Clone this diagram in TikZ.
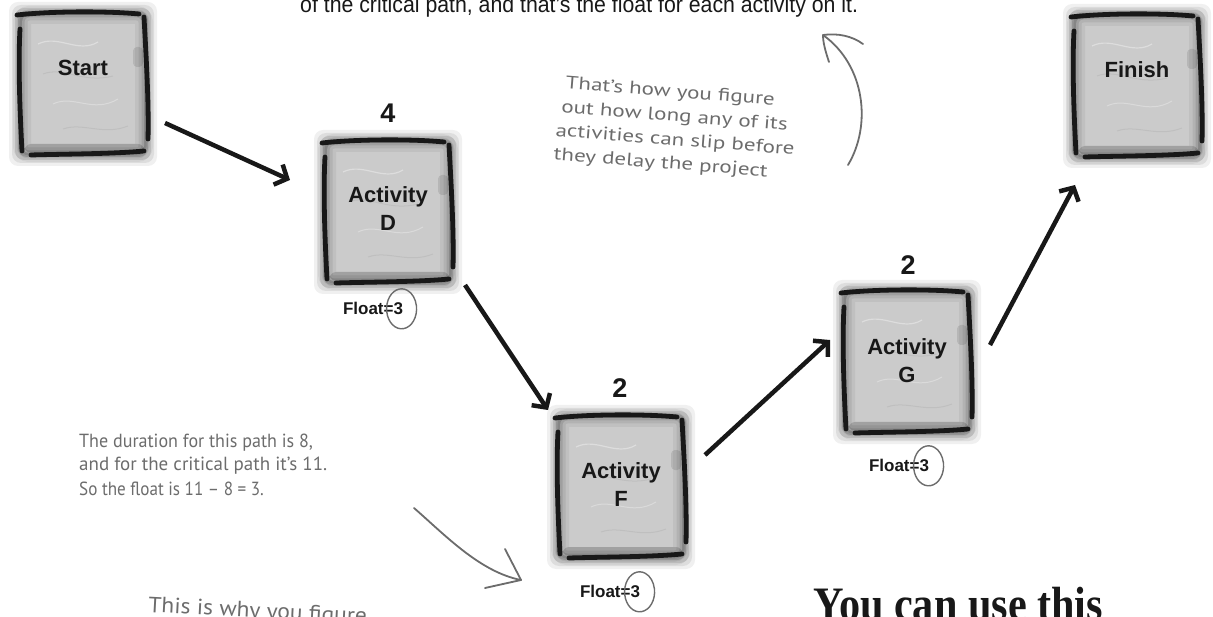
\documentclass[tikz,border=0pt]{standalone}
\usepackage{fontspec}
\setmainfont{Liberation Sans}
\newfontfamily\notefont{PT Sans}
\newfontfamily\headfont{Liberation Serif}
\usetikzlibrary{arrows.meta}

\definecolor{stonefill}{RGB}{203,203,203}
\definecolor{notegray}{RGB}{108,108,108}
\definecolor{ink}{RGB}{24,24,24}

\tikzset{
  box/.style={minimum width=126pt,minimum height=140pt,inner sep=0pt},
  boxlabel/.style={font=\fontsize{22}{28}\selectfont\bfseries,text=ink,align=center,inner sep=0pt},
  dur/.style={font=\fontsize{27}{27}\selectfont\bfseries,text=ink,inner sep=0pt},
  floatlabel/.style={font=\fontsize{17}{17}\selectfont\bfseries,text=ink,inner sep=0pt},
  flow/.style={ink,line width=4.5pt,-{Straight Barb[length=10pt,width=22pt]}},
  note/.style={notegray,line width=1.8pt,line cap=round,line join=round},
  notetext/.style={font=\notefont\fontsize{18}{24}\selectfont,text=notegray,inner sep=0pt,anchor=base west},
  smallnote/.style={notetext,font=\notefont\fontsize{19}{24}\selectfont},
}

% weathered stone tile centred at (#1,#2)
\newcommand\stoneat[2]{%
  \begin{scope}[shift={(#1,#2)}]
    \foreach \k/\op in {11/0.06,8/0.08,5/0.11,2/0.15}{
      \fill[black,opacity=\op,rounded corners=9pt] (-63-\k,-71-\k) rectangle (63+\k,71+\k);}
    \fill[stonefill,rounded corners=7pt] (-61,-69) rectangle (61,69);
    \foreach \w/\op in {18/0.05,11/0.07,5/0.10}{
      \draw[black,opacity=\op,line width=\w pt,rounded corners=7pt] (-61,-69) rectangle (61,69);}
    \fill[black,opacity=.16,rounded corners=6pt] (-58,-69) rectangle (61,-60);
    \fill[black,opacity=.10,rounded corners=4pt] (50,17) rectangle (60,37);
    % surface texture
    \draw[white,opacity=.35,line width=1.2pt] (-45,40) .. controls (-25,50) and (-5,30) .. (15,42);
    \draw[white,opacity=.30,line width=1pt] (-30,-20) .. controls (-10,-10) and (10,-30) .. (35,-15);
    \draw[black,opacity=.06,line width=1pt] (-40,10) .. controls (-20,18) and (0,0) .. (30,8);
    \draw[black,opacity=.06,line width=1pt] (-20,-45) .. controls (0,-38) and (20,-52) .. (45,-42);
    % hand-drawn outline strokes
    \draw[ink,line width=4.8pt,line cap=round]
      (-66,69) .. controls (-30,73) and (25,73) .. (56,70)
      (-63,55) .. controls (-65,20) and (-63,-30) .. (-61,-67)
      (61,67) .. controls (63,30) and (66,-20) .. (65,-55)
      (-52,-71) .. controls (-20,-70) and (30,-70) .. (61,-67);
  \end{scope}}

% loose pencil ring around a figure
\newcommand\ringat[2]{%
  \draw[note,line width=1.4pt] (#1,#2) ++(-2.5,20)
    arc[start angle=98,end angle=472,x radius=15pt,y radius=20pt];}

\begin{document}
\begin{tikzpicture}[x=1pt,y=1pt]
\useasboundingbox (0,0) rectangle (1213,-617);
\clip (0,0) rectangle (1213,-617);

% running text at the top
\node[anchor=base west,inner sep=0pt,font=\fontsize{23}{23}\selectfont,text=ink] (lead) at (300,-13)
  {\scalebox{0.925}[1]{of the critical path, and that's the float for each activity on it.}};

% tiles
\stoneat{83}{-84}
\node[box] (start) at (83,-84) {};
\node[boxlabel] (start-l) at (83,-68) {Start};

\stoneat{388}{-212}
\node[box] (actD) at (388,-212) {};
\node[boxlabel] (actD-l) at (388,-209) {Activity\\D};
\node[dur] (actD-d) at (388,-113) {4};
\node[floatlabel] (actD-f) at (373,-308) {Float=3};
\ringat{402}{-309}

\stoneat{621}{-487}
\node[box] (actF) at (621,-487) {};
\node[boxlabel] (actF-l) at (621,-485) {Activity\\F};
\node[dur] (actF-d) at (620,-388) {2};
\node[floatlabel] (actF-f) at (610,-591) {Float=3};
\ringat{640}{-592}

\stoneat{907}{-362}
\node[box] (actG) at (907,-362) {};
\node[boxlabel] (actG-l) at (907,-361) {Activity\\G};
\node[dur] (actG-d) at (908,-265) {2};
\node[floatlabel] (actG-f) at (899,-465) {Float=3};
\ringat{929}{-466}

\stoneat{1137}{-86}
\node[box] (finish) at (1137,-86) {};
\node[boxlabel] (finish-l) at (1137,-70) {Finish};

% flow arrows
\draw[flow] ([shift={(82,-39)}]start.center) -- ([shift={(-98,32)}]actD.center);
\draw[flow] ([shift={(77,-73)}]actD.center) -- ([shift={(-73,77)}]actF.center);
\draw[flow] ([shift={(84,32)}]actF.center) -- ([shift={(-77,22)}]actG.center);
\draw[flow] ([shift={(83,17)}]actG.center) -- ([shift={(-62,-99)}]finish.center);

% note at the upper right
\node[notetext,anchor=center,align=left,rotate=-4.5] (n1) at (676,-129)
  {\scalebox{1.28}[1]{\hspace*{5pt}That’s how you figure}\\
   \scalebox{1.28}[1]{\hspace*{3pt}out how long any of its}\\
   \scalebox{1.28}[1]{activities can slip before}\\
   \scalebox{1.28}[1]{they delay the project}};
\coordinate (up-tail) at (848,-165);
\coordinate (up-tip) at (823,-35);
\draw[note] (up-tail) .. controls (872,-125) and (865,-65) .. (up-tip);
\draw[note] ([shift={(6,-27)}]up-tip) .. controls (825,-50) and (823,-42) .. (up-tip)
  .. controls (838,-33) and (852,-36) .. ([shift={(40,-9)}]up-tip);

% note at the lower left
\node[smallnote] (n2a) at (79,-447) {\scalebox{0.95}[1]{The duration for this path is 8,}};
\node[smallnote] (n2b) at (79,-471) {and for the critical path it’s 11.};
\node[smallnote] (n2c) at (79,-495) {\scalebox{0.9}[1]{So the float is 11 – 8 = 3.}};
\coordinate (dn-tail) at (414,-508);
\coordinate (dn-tip) at (521,-580);
\draw[note] (dn-tail) .. controls (445,-535) and (480,-572) .. (dn-tip);
\draw[note] ([shift={(-16,31)}]dn-tip) -- (dn-tip) -- ([shift={(-36,-8)}]dn-tip);

% text running on below
\node[notetext,font=\notefont\fontsize{22}{24}\selectfont,rotate=-3] (n3) at (148,-612)
  {\scalebox{1.07}[1]{This is why you figure}};
\node[anchor=base west,inner sep=0pt,font=\headfont\bfseries\fontsize{48}{48}\selectfont,text=ink] (tease)
  at (813,-620) {\scalebox{0.88}[1]{You can use this}};
\end{tikzpicture}
\end{document}
